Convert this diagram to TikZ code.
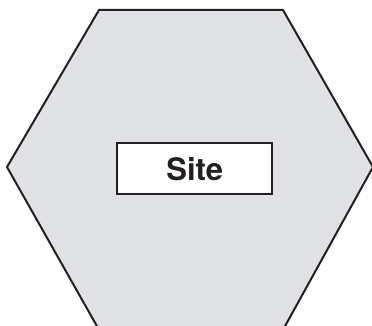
\documentclass[tikz,border=0pt]{standalone}
\usepackage{fontspec}
\setsansfont{TeX Gyre Heros}
\usetikzlibrary{positioning}
\definecolor{sitegray}{RGB}{224,225,228}
\definecolor{inkblack}{RGB}{35,31,32}

\begin{document}
\begin{tikzpicture}[x=1pt,y=1pt]
\useasboundingbox (0,0) rectangle (372,326);
\clip (0,0) rectangle (372,326);
% Hexagon
\coordinate (L) at (7,159);
\coordinate (TL) at (99,316);
\coordinate (TR) at (283,316);
\coordinate (R) at (373,159);
\coordinate (BR) at (284,-2);
\coordinate (BL) at (98,-2);
\draw[line width=2pt,draw=inkblack,fill=sitegray,line join=miter] (L) -- (TL) -- (TR) -- (R) -- (BR) -- (BL) -- cycle;
% Site label
\node[draw=inkblack,fill=white,line width=1.8pt,minimum width=155pt,minimum height=51pt,inner sep=0pt,font=\sffamily\bfseries\fontsize{31}{36}\selectfont,text=inkblack](site) at (194.8,157.2){Site};
\end{tikzpicture}
\end{document}
